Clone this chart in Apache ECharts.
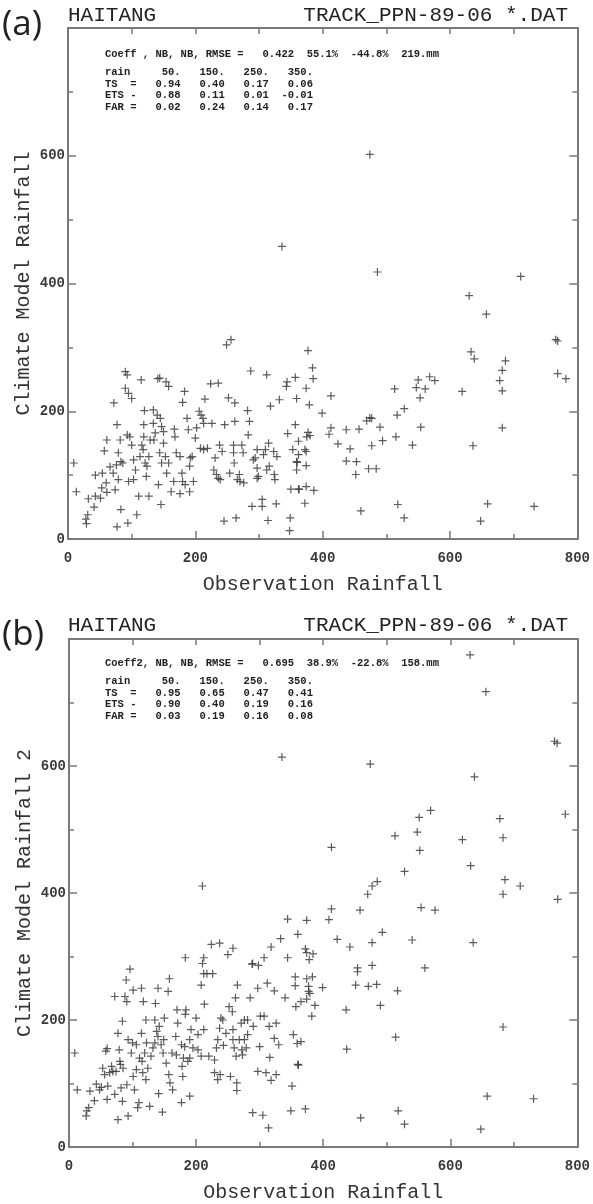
<!DOCTYPE html>
<html>
<head>
<meta charset="utf-8">
<script src="https://cdn.jsdelivr.net/npm/echarts@6/dist/echarts.min.js"></script>
<style>
  html, body { margin: 0; padding: 0; background: #fff; }
  #chart { width: 593px; height: 1204px; }
</style>
</head>
<body>
<div id="chart"></div>
<script>
// panel (a): observation vs climate model rainfall
const obsA = [9,13,29,28,31,32,41,43,43,51,53,54,57,61,60,61,66,72,77,74,71,76,77,83,82,79,79,83,86,90,93,90,95,100,93,97,94,95,103,100,106,103,108,111,113,115,119,120,116,118,119,121,123,124,127,127,129,134,134,137,135,140,141,144,142,144,146,145,147,150,150,147,153,154,158,155,158,162,166,167,168,170,176,176,179,180,183,180,184,187,189,191,191,192,195,197,200,202,206,209,212,213,215,208,213,219,226,224,236,231,229,233,236,239,238,242,245,246,249,256,252,254,260,262,260,261,264,262,266,269,270,273,275,276,282,285,283,287,289,291,294,297,297,299,297,305,305,307,310,312,312,314,315,316,318,323,324,325,327,328,332,343,344,345,349,348,350,353,357,357,359,359,359,362,362,362,
  377,384,385,374,379,413,399,377,380,375,372,374,360,374,363,374,386,372,413,410,424,437,443,437,453,452,457,460,469,474,477,472,484,477,490,494,513,517,528,515,518,528,541,547,550,553,554,561,568,576,619,633,638,636,648,659,678,682,687,682,682,732,766,769,769,782,
  474,486,630,657,711,336];
const modelA = [119,74,24,31,38,63,50,67,100,64,80,103,138,155,88,73,113,213,179,77,103,116,19,46,155,135,93,121,119,262,257,236,228,220,163,160,25,90,93,147,108,124,38,67,129,249,179,201,147,140,160,119,98,114,67,129,155,202,181,166,155,194,251,252,85,135,54,189,176,168,150,119,129,246,239,103,119,74,90,172,160,135,71,129,103,90,231,214,85,189,171,74,114,127,129,90,158,174,200,194,189,181,219,142,140,142,181,243,244,127,108,101,95,93,147,137,28,179,304,312,221,103,147,213,135,119,33,184,93,101,90,147,135,88,201,184,163,263,51,124,127,95,140,98,111,62,51,132,140,257,108,29,150,114,208,137,101,93,55,129,218,239,246,165,33,13,78,140,253,179,220,108,121,153,132,78,
  295,268,251,236,210,224,197,167,162,160,140,137,120,115,78,82,76,56,174,164,149,171,141,122,121,101,172,44,185,190,189,110,110,146,175,154,235,194,204,160,54,33,147,237,249,221,175,235,254,248,231,293,282,146,28,55,248,264,279,232,174,51,312,310,259,251,
  602,418,381,352,411,458];

// panel (b): observation vs climate model rainfall 2
const obsB = [9,13,27,28,31,33,40,43,48,51,53,56,58,60,60,61,64,67,69,72,72,74,77,77,79,80,81,82,84,84,85,88,90,91,93,93,91,96,98,100,101,101,103,106,106,108,110,111,114,114,115,116,117,119,121,121,122,124,127,129,132,135,135,136,138,140,140,141,142,145,147,148,149,150,153,156,157,158,159,162,163,168,169,170,171,177,177,178,179,180,182,184,183,187,190,190,190,192,195,200,203,203,208,208,210,212,212,213,217,220,226,229,229,232,234,234,237,238,239,242,243,247,252,254,257,258,258,260,262,263,264,264,265,268,271,272,273,276,276,279,281,281,285,288,289,290,297,298,297,300,301,305,307,310,312,314,315,316,318,323,323,326,326,330,340,349,351,353,356,356,357,359,360,
  210,335,344,360,333,318,307,344,289,258,250,237,224,212,183,
  474,638,764,768,781,569,551,678,513,548,619,683,413,552,632,528,485,477,470,686,710,683,769,413,458,554,576,374,409,422,442,477,493,540,636,372,374,384,378,477,560,454,
  374,383,377,377,379,399,374,365,387,382,454,451,471,484,517,436,490,365,437,514,361,372,459,518,528,648,658,731,683,
  631,656];
const modelB = [148,90,49,57,62,88,73,99,90,94,124,114,151,155,75,96,117,127,119,237,83,119,43,179,153,135,130,93,72,198,124,237,263,229,169,49,98,280,148,164,247,111,90,161,122,62,70,140,250,179,135,117,229,148,200,106,164,124,64,143,156,200,164,226,182,250,174,84,190,161,55,148,169,203,132,245,114,265,101,148,90,174,145,216,195,70,161,127,111,140,158,216,209,135,140,80,169,185,156,203,177,153,255,143,289,273,185,225,273,143,273,137,117,156,106,169,187,114,203,200,160,179,221,111,213,185,169,156,235,143,101,89,255,169,195,153,145,169,200,156,177,200,235,288,54,190,250,286,119,158,206,50,206,117,258,30,190,141,105,246,171,195,114,161,235,57,96,177,268,254,221,163,130,
  411,614,359,335,328,315,298,298,289,313,303,321,319,298,298,
  603,583,639,636,524,530,519,517,490,496,484,487,472,467,443,434,418,411,398,421,411,398,390,375,373,377,373,357,358,327,315,322,338,326,322,312,306,304,295,286,282,282,
  265,268,253,245,242,251,233,229,223,206,276,255,253,256,246,216,223,166,154,173,129,60,46,57,36,28,80,76,189,
  775,717];

const axisTicks = [0, 200, 400, 600, 800];

const statsA = {
  head: 'Coeff , NB, NB, RMSE =   0.422  55.1%  -44.8%  219.mm',
  rows: ['rain     50.   150.   250.   350.',
         'TS  =   0.94   0.40   0.17   0.06',
         'ETS -   0.88   0.11   0.01  -0.01',
         'FAR =   0.02   0.24   0.14   0.17']
};
const statsB = {
  head: 'Coeff2, NB, NB, RMSE =   0.695  38.9%  -22.8%  158.mm',
  rows: ['rain     50.   150.   250.   350.',
         'TS  =   0.95   0.65   0.47   0.41',
         'ETS -   0.90   0.40   0.19   0.16',
         'FAR =   0.03   0.19   0.16   0.08']
};

const zip = (xs, ys) => xs.map((x, i) => [x, ys[i]]);

const mono = 'Liberation Mono';
const frameColor = '#7a7a7a';
const plus = 'path://M-0.6,-4L0.6,-4L0.6,-0.6L4,-0.6L4,0.6L0.6,0.6L0.6,4L-0.6,4L-0.6,0.6L-4,0.6L-4,-0.6L-0.6,-0.6Z';
const frameLine = { show: true, onZero: false, lineStyle: { color: frameColor, width: 2 } };

function mainX(grid, name) {
  return {
    type: 'value', gridIndex: grid, position: 'bottom', min: axisTicks[0], max: axisTicks[axisTicks.length - 1], interval: 200,
    name: name, nameLocation: 'middle', nameGap: 36,
    nameTextStyle: { fontFamily: mono, fontSize: 20, color: '#333' },
    axisLine: frameLine,
    axisTick: { show: true, inside: true, length: 8, lineStyle: { color: frameColor, width: 1.5 } },
    minorTick: { show: true, splitNumber: 2, length: 5, lineStyle: { color: frameColor, width: 1.5 } },
    axisLabel: { fontFamily: mono, fontSize: 14, fontWeight: 'bold', color: '#3a3a3a', margin: 12 },
    splitLine: { show: false }
  };
}
function mirrorX(grid) {
  return {
    type: 'value', gridIndex: grid, position: 'top', min: 0, max: 800, interval: 100,
    axisLine: frameLine,
    axisTick: { show: true, inside: true, length: 6, lineStyle: { color: frameColor, width: 1.5 } },
    axisLabel: { show: false }, splitLine: { show: false }
  };
}
function mainY(grid, name) {
  return {
    type: 'value', gridIndex: grid, position: 'left', min: 0, max: 800, interval: 200,
    name: name, nameLocation: 'middle', nameGap: 34, nameMoveOverlap: false,
    nameTextStyle: { fontFamily: mono, fontSize: 20, color: '#333' },
    axisLine: frameLine,
    axisTick: { show: true, inside: true, length: 8, lineStyle: { color: frameColor, width: 1.5 } },
    minorTick: { show: true, splitNumber: 2, length: 5, lineStyle: { color: frameColor, width: 1.5 } },
    axisLabel: { fontFamily: mono, fontSize: 14, fontWeight: 'bold', color: '#3a3a3a', margin: 3,
      formatter: v => (v === 800 ? '' : v) },
    splitLine: { show: false }
  };
}
function mirrorY(grid) {
  return {
    type: 'value', gridIndex: grid, position: 'right', min: 0, max: 800, interval: 200,
    axisLine: frameLine,
    axisTick: { show: true, inside: true, length: 8, lineStyle: { color: frameColor, width: 1.5 } },
    minorTick: { show: true, splitNumber: 2, length: 5, lineStyle: { color: frameColor, width: 1.5 } },
    axisLabel: { show: false }, splitLine: { show: false }
  };
}

function statText(left, top, stats) {
  const style = { fontFamily: mono, fontSize: 10.5, fontWeight: 'bold', fill: '#222' };
  const out = [{ type: 'text', left: left, top: top, style: Object.assign({ text: stats.head }, style) }];
  stats.rows.forEach((r, i) => {
    out.push({ type: 'text', left: left, top: top + 18 + i * 11.5, style: Object.assign({ text: r }, style) });
  });
  return out;
}

function titles(top, tag) {
  return [
    { type: 'text', left: 2, top: top + 4, style: { text: tag, fontFamily: 'Open Sans', fontSize: 35, fill: '#222' } },
    { type: 'text', left: 68, top: top + 1, style: { text: 'HAITANG', fontFamily: mono, fontSize: 21, fill: '#222' } },
    { type: 'text', right: 25, top: top + 1, style: { text: 'TRACK_PPN-89-06 *.DAT', fontFamily: mono, fontSize: 21, fill: '#222' } }
  ];
}

const chart = echarts.init(document.getElementById('chart'), null, { renderer: 'canvas' });
chart.setOption({
  animation: false,
  backgroundColor: '#fff',
  grid: [
    { left: 68, top: 28, width: 510, height: 511 },
    { left: 69, top: 639, width: 510, height: 510 }
  ],
  xAxis: [mainX(0, 'Observation Rainfall'), mirrorX(0), mainX(1, 'Observation Rainfall'), mirrorX(1)],
  yAxis: [mainY(0, 'Climate Model Rainfall'), mirrorY(0), mainY(1, 'Climate Model Rainfall 2'), mirrorY(1)],
  graphic: [].concat(titles(4, '(a)'), titles(614, '(b)'), statText(105, 49, statsA), statText(105, 658, statsB)),
  series: [
    { type: 'scatter', xAxisIndex: 0, yAxisIndex: 0, data: zip(obsA, modelA),
      symbol: plus, symbolSize: 8, itemStyle: { color: '#333' } },
    { type: 'scatter', xAxisIndex: 2, yAxisIndex: 2, data: zip(obsB, modelB),
      symbol: plus, symbolSize: 8, itemStyle: { color: '#333' } }
  ]
});
</script>
</body>
</html>
